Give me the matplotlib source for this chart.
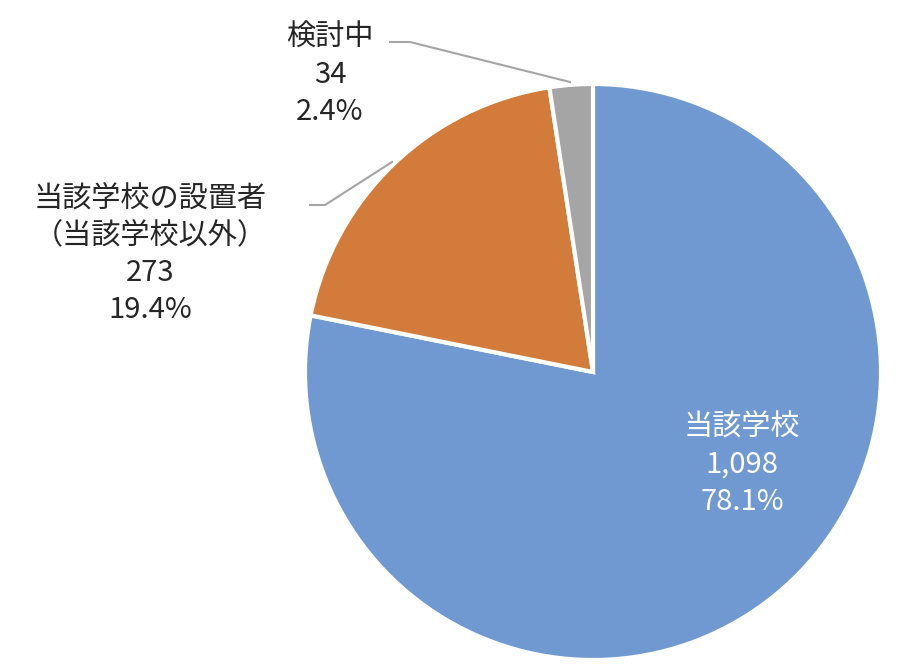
import matplotlib
matplotlib.use("Agg")
import matplotlib.pyplot as plt

plt.rcParams['font.family'] = ['Noto Sans CJK JP', 'DejaVu Sans']

categories = ["当該学校", "当該学校の設置者\n（当該学校以外）", "検討中"]
values = [1098, 273, 34]
percents = ["78.1%", "19.4%", "2.4%"]
colors = ["#7099D1", "#D27B3A", "#A5A5A5"]

W, H = 900, 669
fig = plt.figure(figsize=(9, 6.69), dpi=100)
cx, cy, r = 593, 372, 288
ax = fig.add_axes([(cx - r) / W, (H - cy - r) / H, 2 * r / W, 2 * r / H])
ax.pie(values, colors=colors, startangle=90, counterclock=False, radius=1,
       wedgeprops=dict(edgecolor="white", linewidth=3))
ax.set_xlim(-1, 1)
ax.set_ylim(-1, 1)
ax.set_aspect("equal")
ax.axis("off")

def px(x, y):
    return x / W, 1 - y / H

labels = [f"{c}\n{v:,}\n{p}" for c, v, p in zip(categories, values, percents)]
fs = 21
fig.text(*px(742, 465), labels[0], ha="center", va="center", fontsize=fs,
         color="white", linespacing=1.3)
fig.text(*px(150, 255), labels[1], ha="center", va="center", fontsize=fs,
         color="#262626", linespacing=1.3)
fig.text(*px(330, 75), labels[2], ha="center", va="center", fontsize=fs,
         color="#262626", linespacing=1.3)

for pts in ([(390, 42), (410, 42), (570, 82)], [(310, 205), (325, 205), (392, 162)]):
    xs = [p[0] / W for p in pts]
    ys = [1 - p[1] / H for p in pts]
    fig.add_artist(plt.Line2D(xs, ys, color="#A5A5A5", linewidth=1.5))

fig.savefig("out.png", dpi=100)
